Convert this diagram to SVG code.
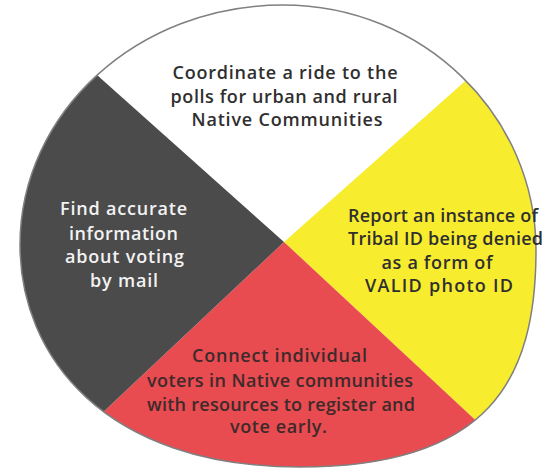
<svg xmlns="http://www.w3.org/2000/svg" width="544" height="474" viewBox="0 0 544 474">
  <style>
    .t { font-family: "Open Sans", "Liberation Sans", sans-serif; font-size: 18px; font-weight: 600; text-anchor: middle; }
    .dark { fill: #2f2f2f; }
    .light { fill: #f2f2f2; }
    .maroon { fill: #3d2a2b; }
  </style>
  <defs>
    <path id="outline" d="M20,245 C20,112 138,5 283,5 C423,5 536,115 536,250 C536,380 489,467 300,467 C104,467 20,356 20,245 Z"/>
    <clipPath id="clip"><use href="#outline"/></clipPath>
  </defs>
  <rect width="544" height="474" fill="#ffffff"/>
  <g clip-path="url(#clip)">
    <g id="north">
      <polygon points="284,242 -90,-92 660,-92" fill="#ffffff"/>
    </g>
    <g id="east">
      <polygon points="284,242 660,-92 660,592" fill="#f8ec2f"/>
    </g>
    <g id="south">
      <polygon points="284,242 660,592 -86,590" fill="#e84b50"/>
    </g>
    <g id="west">
      <polygon points="284,242 -86,590 -90,-92" fill="#4b4b4b"/>
    </g>
  </g>
  <use href="#outline" fill="none" stroke="#808080" stroke-width="1.5"/>
  <g id="north-text" class="t dark">
    <text x="285" y="79" textLength="225">Coordinate a ride to the</text>
    <text x="284" y="103" textLength="227">polls for urban and rural</text>
    <text x="287" y="126" textLength="191">Native Communities</text>
  </g>
  <g id="west-text" class="t light">
    <text x="123.5" y="215" textLength="127">Find accurate</text>
    <text x="123.5" y="240" textLength="109">information</text>
    <text x="124.5" y="263" textLength="119">about voting</text>
    <text x="124" y="287" textLength="68">by mail</text>
  </g>
  <g id="east-text" class="t dark">
    <text x="443" y="222" textLength="190">Report an instance of</text>
    <text x="445.5" y="245" textLength="195">Tribal ID being denied</text>
    <text x="437" y="269" textLength="111">as a form of</text>
    <text x="439" y="292" textLength="148">VALID photo ID</text>
  </g>
  <g id="south-text" class="t maroon">
    <text x="279.5" y="362" textLength="175">Connect individual</text>
    <text x="280" y="387" textLength="266">voters in Native communities</text>
    <text x="281" y="411" textLength="268">with resources to register and</text>
    <text x="278.5" y="433" textLength="97">vote early.</text>
  </g>
</svg>
